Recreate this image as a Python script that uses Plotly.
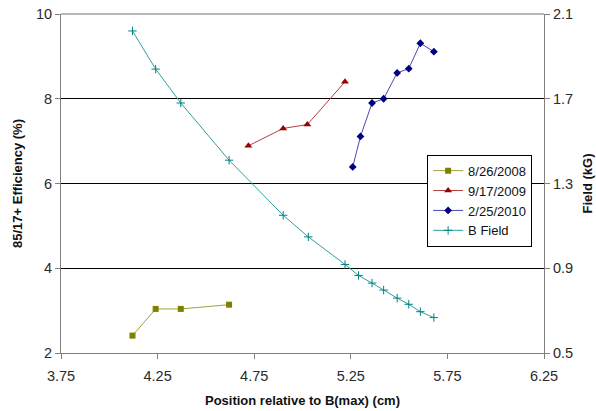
import plotly.graph_objects as go

# Data
x_2008 = [4.12, 4.24, 4.37, 4.62]
y_2008 = [2.41, 3.04, 3.04, 3.14]

x_2009 = [4.72, 4.90, 5.025, 5.22]
y_2009 = [6.89, 7.30, 7.39, 8.40]

x_2010 = [5.26, 5.30, 5.36, 5.42, 5.49, 5.55, 5.61, 5.68]
y_2010 = [6.39, 7.11, 7.90, 8.00, 8.61, 8.71, 9.31, 9.11]

x_b = [4.12, 4.24, 4.37, 4.62, 4.90, 5.03, 5.22, 5.29, 5.36, 5.42, 5.49, 5.55, 5.61, 5.68]
y_b = [2.02, 1.84, 1.68, 1.41, 1.15, 1.048, 0.918, 0.866, 0.83, 0.797, 0.759, 0.73, 0.695, 0.667]

x_ticks = [3.75, 4.25, 4.75, 5.25, 5.75, 6.25]
y_ticks = [2, 4, 6, 8, 10]
y2_ticks = [0.5, 0.9, 1.3, 1.7, 2.1]

FONT = "Liberation Sans, Arial, sans-serif"

fig = go.Figure()
fig.add_trace(go.Scatter(x=x_2008, y=y_2008, name="8/26/2008", mode="lines+markers",
                         line=dict(color="#a0a040", width=1),
                         marker=dict(symbol="square", size=6, color="#808000")))
fig.add_trace(go.Scatter(x=x_2009, y=y_2009, name="9/17/2009", mode="lines+markers",
                         line=dict(color="#b04040", width=1),
                         marker=dict(symbol="triangle-up", size=7, color="#990000")))
fig.add_trace(go.Scatter(x=x_2010, y=y_2010, name="2/25/2010", mode="lines+markers",
                         line=dict(color="#4848b0", width=1),
                         marker=dict(symbol="diamond", size=6, color="#000080")))
fig.add_trace(go.Scatter(x=x_b, y=y_b, name="B Field", mode="lines+markers", yaxis="y2",
                         line=dict(color="#30a0a0", width=1),
                         marker=dict(symbol="cross-thin", size=6, color="#008080",
                                     line=dict(color="#008080", width=1))))

fig.update_layout(
    width=596, height=411,
    margin=dict(l=61, r=52, t=14, b=58),
    paper_bgcolor="white", plot_bgcolor="white",
    font=dict(family=FONT, size=14.5, color="#2a2a2a"),
    showlegend=True,
    legend=dict(x=0.758, y=0.585, xanchor="left", yanchor="top",
                bordercolor="black", borderwidth=1, bgcolor="white",
                font=dict(size=13, color="#111"), tracegroupgap=0,
                itemwidth=30),
    xaxis=dict(range=[3.75, 6.25], tickvals=x_ticks, ticktext=[f"{v:.2f}" for v in x_ticks],
               showgrid=False, zeroline=False, showline=True, linecolor="#808080", linewidth=1,
               ticks="outside", ticklen=5, tickcolor="#808080", automargin=False,
               ticklabelstandoff=5,
               title=dict(text="<b>Position relative to B(max) (cm)</b>", font=dict(size=13, color="#111"),
                          standoff=12)),
    yaxis=dict(range=[2, 10], tickvals=y_ticks, showgrid=True, gridcolor="#000", gridwidth=1,
               zeroline=False, showline=True, linecolor="#808080", linewidth=1,
               ticks="outside", ticklen=5, tickcolor="#808080", automargin=False,
               title=dict(text="<b>85/17+ Efficiency (%)</b>", font=dict(size=13, color="#111"),
                          standoff=10)),
    yaxis2=dict(range=[0.5, 2.1], tickvals=y2_ticks, ticktext=[f"{v:.1f}" for v in y2_ticks],
                overlaying="y", side="right", showgrid=False, zeroline=False,
                showline=True, linecolor="#808080", linewidth=1,
                ticks="outside", ticklen=5, tickcolor="#808080", automargin=False,
                title=dict(text="<b>Field (kG)</b>", font=dict(size=13, color="#111"), standoff=10)),
    shapes=[dict(type="line", xref="paper", yref="paper", x0=0, x1=1, y0=1, y1=1,
                 line=dict(color="#a0a0a0", width=1.5), layer="above")],
)

fig.write_html("out.html")
